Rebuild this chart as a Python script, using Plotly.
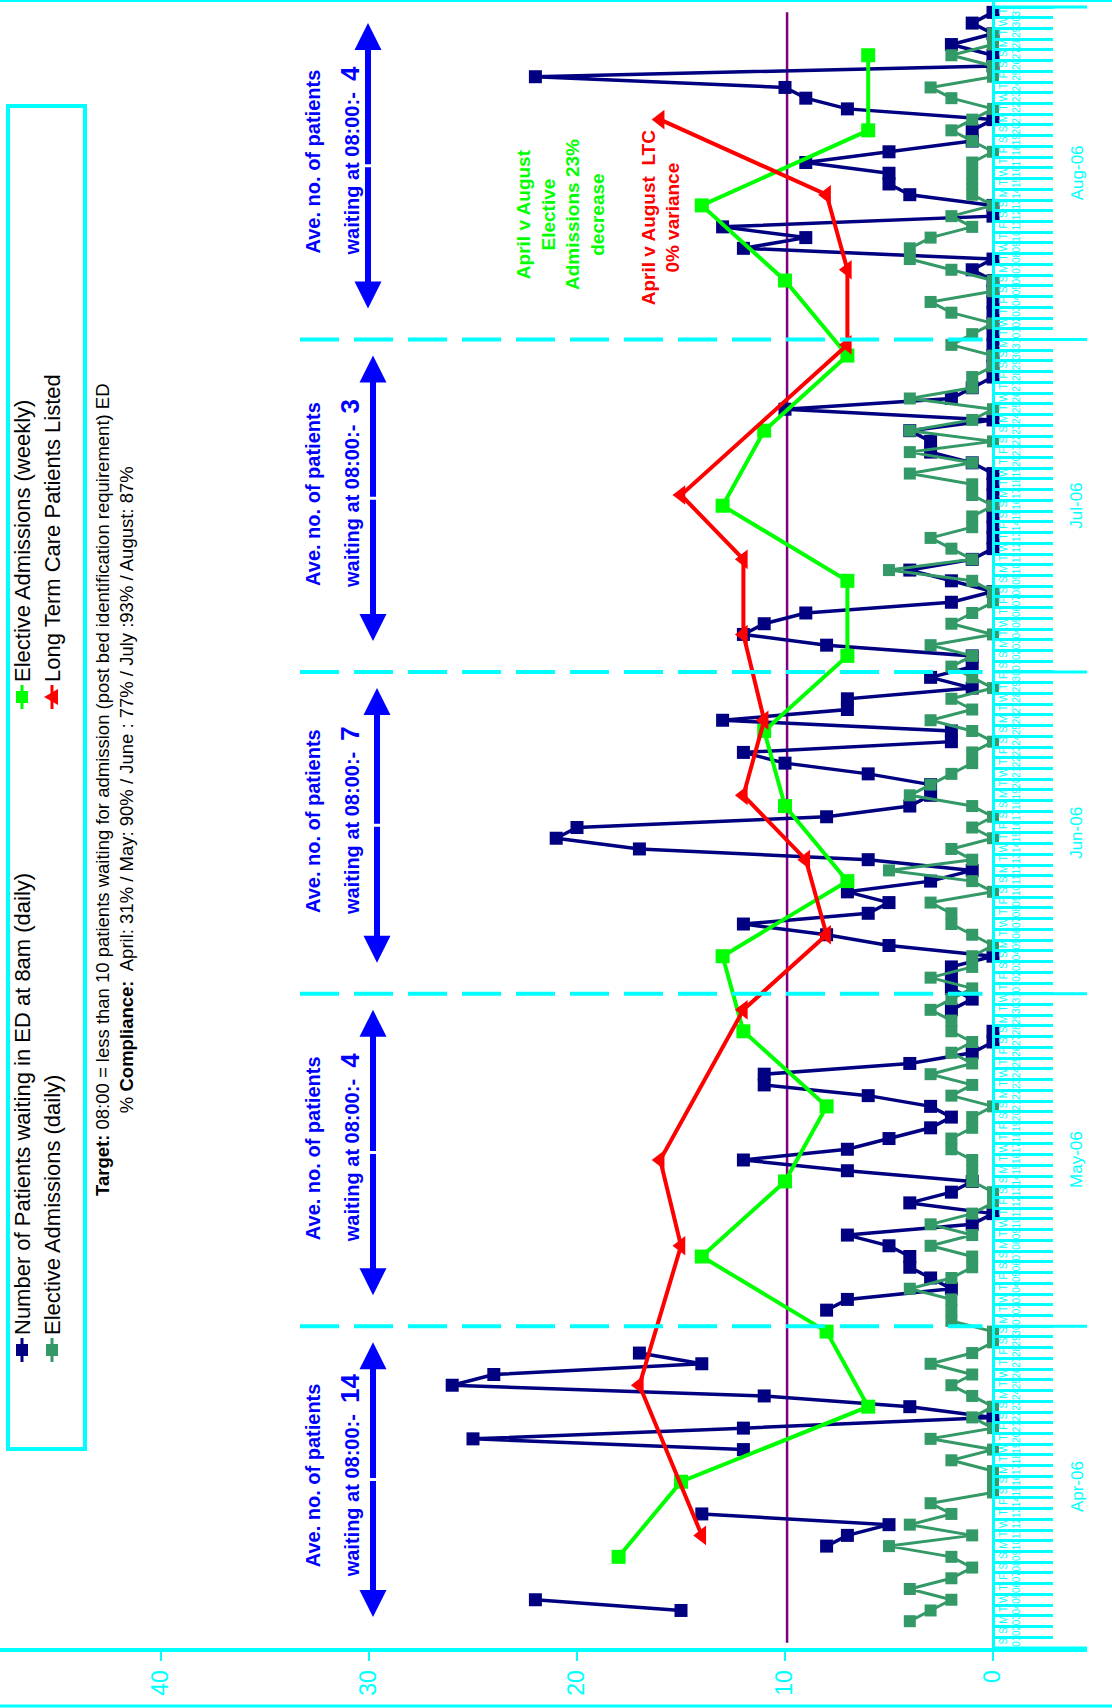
import datetime as dt
import plotly.graph_objects as go

# ---------------- data ----------------
START = dt.date(2006, 4, 1)
N_DAYS = 153

# Number of patients waiting in ED at 8am (daily), per month
ed_apr = [None, None, None, 15, 22, None, None, None, None, 8, 7, 5, 14, None, None,
          None, None, None, 12, 25, 12, 0, 4, 11, 26, 24, 14, 17, None, None]
ed_may = [None, 8, 7, 2, 3, 4, 4, 5, 7, 1, 0, 4, 2, 1, 7, 12, 7, 5, 3, 2, 3, 6, 11, 11,
          4, 1, 0, 0, None, 2, 1]
ed_jun = [2, 2, 2, 0, 5, 8, 12, 6, 5, 7, 3, 1, 6, 17, 21, 20, 8, 4, 3, 3, 6, 10, 12, 2,
          2, 13, 7, 7, 1, 3]
ed_jul = [1, 1, 8, 12, 11, 9, 2, 0, 2, 4, 1, 0, 0, 0, 0, 0, 0, 0, 0, 1, 3, 3, 4, 0, 10,
          2, 1, 0, 0, 0, 0]
ed_aug = [0, 0, 0, 0, 0, 0, 1, 0, 12, 9, 13, 0, 0, 4, 5, 5, 9, 5, 1, 1, 0, 7, 9, 10, 22,
          0, 0, 2, 0, 1, 0]

# Elective admissions (daily), per month
el_apr = [None, None, 4, 3, 2, 4, 2, 1, 2, 5, 1, 4, 2, 3, 0, 0, 0, 2, 0, 3, 0, 1, 0, 1,
          2, 1, 3, 1, 0, 0]
el_may = [2, 2, 2, 4, 2, 1, 1, 3, 1, 3, 1, 0, 0, 1, 1, 1, 2, 2, 1, 1, 0, 2, 1, 3, 1, 2,
          1, 2, 2, 3, 2]
el_jun = [1, 3, 1, 1, 0, 1, 2, 2, 3, 0, 1, 5, 1, 2, 0, 1, 0, 1, 4, 3, 2, 1, 1, 0, 1, 3,
          1, 2, 0, 1]
el_jul = [2, 1, 3, 0, 2, 1, 0, 0, 1, 5, 1, 2, 3, 1, 1, 0, 1, 1, 4, 1, 4, 0, 4, 1, 0, 4,
          1, 1, 0, 0, 2]
el_aug = [1, 0, 2, 3, 0, 0, 2, 4, 4, 3, 1, 2, 0, 1, 1, 1, 1, 0, 1, 2, 1, 0, 2, 3, 0, 0,
          2, 0, 0, None, None]

# Elective admissions (weekly)
weekly_dates = ["2006-04-09", "2006-04-16", "2006-04-23", "2006-04-30", "2006-05-07",
                "2006-05-14", "2006-05-21", "2006-05-28", "2006-06-04", "2006-06-11",
                "2006-06-18", "2006-06-25", "2006-07-02", "2006-07-09", "2006-07-16",
                "2006-07-23", "2006-07-30", "2006-08-06", "2006-08-13", "2006-08-20",
                "2006-08-27"]
weekly_vals = [18, 15, 6, 8, 14, 10, 8, 12, 13, 7, 10, 11, 7, 7, 13, 11, 7, 10, 14, 6, 6]

# Long term care patients listed
ltc_dates = ["2006-04-11", "2006-04-25", "2006-05-08", "2006-05-16", "2006-05-30",
             "2006-06-06", "2006-06-13", "2006-06-19", "2006-06-26", "2006-07-04",
             "2006-07-11", "2006-07-17", "2006-07-31", "2006-08-07", "2006-08-14",
             "2006-08-21"]
ltc_vals = [14, 17, 15, 16, 12, 8, 9, 12, 11, 12, 12, 15, 7, 7, 8, 16]

target_value = 9.9

month_labels = ["Apr-06", "May-06", "Jun-06", "Jul-06", "Aug-06"]
month_starts = ["2006-04-01", "2006-05-01", "2006-06-01", "2006-07-01", "2006-08-01", "2006-09-01"]
month_avgs = ["14", "4", "7", "3", "4"]
value_ticks = [0, 10, 20, 30, 40]
weekday_letters = ["M", "T", "W", "T", "F", "S", "S"]

# ---------------- helpers ----------------
W, H = 1112, 1708
CYAN = "#00FFFF"
FONT = "Liberation Sans, Arial, sans-serif"


def di(s):
    return (dt.date.fromisoformat(s) - START).days


days = [START + dt.timedelta(days=i) for i in range(N_DAYS)]
idx = list(range(N_DAYS))
day_text = [f"{weekday_letters[d.weekday()]}<br>{d.day:02d}" for d in days]
ed = ed_apr + ed_may + ed_jun + ed_jul + ed_aug
el = el_apr + el_may + el_jun + el_jul + el_aug

# layout calibration (pixels)
X0_PX = 993.0
PX_PER_UNIT = 20.8
AXIS_RIGHT_PX = 1087.0
Y_BOT_PX = 1648.0
PX_PER_DAY = (1648.0 - 7.0) / N_DAYS
x_range = [X0_PX / PX_PER_UNIT, -(AXIS_RIGHT_PX - X0_PX) / PX_PER_UNIT]
y_range = [-0.5, -0.5 + Y_BOT_PX / PX_PER_DAY]


def px(x):
    return x / W


def py(y):
    return 1 - y / H


def xv(p):
    # pixel column -> value on the (reversed) value axis
    return (X0_PX - p) / PX_PER_UNIT


fig = go.Figure()

fig.add_trace(go.Scatter(x=[target_value] * N_DAYS, y=idx, mode="lines",
                         line=dict(color="#800080", width=2.5), hoverinfo="skip"))
fig.add_trace(go.Scatter(x=ed, y=idx, mode="lines+markers",
                         line=dict(color="#000080", width=3.5),
                         marker=dict(symbol="square", size=13, color="#000080")))
fig.add_trace(go.Scatter(x=el, y=idx, mode="lines+markers",
                         line=dict(color="#339966", width=3),
                         marker=dict(symbol="square", size=12, color="#339966")))
fig.add_trace(go.Scatter(x=weekly_vals, y=[di(d) for d in weekly_dates], mode="lines+markers",
                         line=dict(color="#00FF00", width=4),
                         marker=dict(symbol="square", size=14, color="#00FF00")))
fig.add_trace(go.Scatter(x=ltc_vals, y=[di(d) for d in ltc_dates], mode="lines+markers",
                         line=dict(color="#FF0000", width=4),
                         marker=dict(symbol="triangle-left", size=17, color="#FF0000")))

shapes = []
annotations = []

# month boundary ticks and dashed separators
bounds = [di(m) - 0.5 for m in month_starts]
for b in bounds:
    shapes.append(dict(type="line", xref="x", yref="y", x0=0, x1=x_range[1], y0=b, y1=b,
                       line=dict(color=CYAN, width=3)))
for b in bounds[1:-1]:
    shapes.append(dict(type="line", xref="x", yref="y", x0=xv(300), x1=0.5, y0=b, y1=b,
                       line=dict(color=CYAN, width=4, dash="39px,15px")))

# month labels
for i, lab in enumerate(month_labels):
    mid = (bounds[i] + bounds[i + 1]) / 2
    annotations.append(dict(x=xv(1077), y=mid, xref="x", yref="y", text=lab, showarrow=False,
                            textangle=-90, xanchor="center", yanchor="middle",
                            font=dict(size=17, color=CYAN, family=FONT)))

# blue double arrows + average texts
arrow_px = [373, 373, 377, 373, 368]
for i in range(5):
    lo = bounds[i] + 2.9
    hi = bounds[i + 1] - 1.5
    mid = (lo + hi) / 2
    ax_v = xv(arrow_px[i])
    for tip in (lo, hi):
        annotations.append(dict(x=ax_v, y=tip, ax=ax_v, ay=mid, xref="x", yref="y",
                                axref="x", ayref="y", text="", showarrow=True, arrowhead=2,
                                arrowsize=0.9, arrowwidth=6, arrowcolor="#0000FF"))
    annotations.append(dict(x=xv(313), y=mid + 0.4, xref="x", yref="y", showarrow=False,
                            textangle=-90, xanchor="center", yanchor="middle",
                            text="<b>Ave. no. of patients</b>",
                            font=dict(size=20, color="#0000FF", family=FONT)))
    annotations.append(dict(x=xv(350), y=mid + 0.4, xref="x", yref="y", showarrow=False,
                            textangle=-90, xanchor="center", yanchor="middle",
                            text=("<b>waiting at 08:00:-  "
                                  f"<span style='font-size:26px'>{month_avgs[i]}</span></b>"),
                            font=dict(size=20, color="#0000FF", family=FONT)))

# comparison notes
annotations.append(dict(x=xv(560), y=133.1, xref="x", yref="y", showarrow=False, textangle=-90,
                        xanchor="center", yanchor="middle",
                        text="<b>April v August<br>Elective<br>Admissions 23%<br>decrease</b>",
                        font=dict(size=19, color="#00FF00", family=FONT)))
annotations.append(dict(x=xv(661), y=132.8, xref="x", yref="y", showarrow=False, textangle=-90,
                        xanchor="center", yanchor="middle",
                        text="<b>April v August  LTC<br>0% variance</b>",
                        font=dict(size=19, color="#FF0000", family=FONT)))

# target text
annotations.append(dict(x=px(115), y=py(790), xref="paper", yref="paper", showarrow=False,
                        textangle=-90, xanchor="center", yanchor="middle",
                        text=("<b>Target:</b> 08:00 = less than 10 patients waiting for admission "
                              "(post bed identification requirement) ED<br>"
                              "% <b>Compliance:</b>  April: 31% / May: 90% / June : 77% / "
                              "July :93% / August: 87%"),
                        font=dict(size=18.5, color="#000000", family=FONT)))

# legend (rotated)
shapes.append(dict(type="rect", xref="paper", yref="paper", x0=px(8), x1=px(85),
                   y0=py(1449), y1=py(106), line=dict(color=CYAN, width=4)))
legend_items = [
    ("Number of Patients waiting in ED at 8am (daily)", "#000080", 22, 1350, "square"),
    ("Elective Admissions (daily)", "#339966", 52, 1350, "square"),
    ("Elective Admissions (weekly)", "#00FF00", 22, 697, "square"),
    ("Long Term Care Patients Listed", "#FF0000", 52, 697, "triangle"),
]
for text, col, lx, ly, sym in legend_items:
    shapes.append(dict(type="line", xref="paper", yref="paper", x0=px(lx), x1=px(lx),
                       y0=py(ly + 12), y1=py(ly - 12), line=dict(color=col, width=3)))
    if sym == "square":
        shapes.append(dict(type="rect", xref="paper", yref="paper", x0=px(lx - 6), x1=px(lx + 6),
                           y0=py(ly + 6), y1=py(ly - 6), line=dict(width=0), fillcolor=col))
    else:
        shapes.append(dict(type="path", xref="paper", yref="paper",
                           path=(f"M {px(lx - 8)},{py(ly)} L {px(lx + 6)},{py(ly - 8)} "
                                 f"L {px(lx + 6)},{py(ly + 8)} Z"),
                           line=dict(width=0), fillcolor=col))
    annotations.append(dict(x=px(lx), y=py(ly - 13), xref="paper", yref="paper", showarrow=False,
                            textangle=-90, xanchor="center", yanchor="bottom", text=text,
                            font=dict(size=22, color="#000000", family=FONT)))

# outer frame lines
shapes.append(dict(type="line", xref="paper", yref="paper", x0=0, x1=1, y0=py(1), y1=py(1),
                   line=dict(color=CYAN, width=2)))
shapes.append(dict(type="line", xref="paper", yref="paper", x0=0, x1=1, y0=py(1706), y1=py(1706),
                   line=dict(color=CYAN, width=3)))

fig.update_layout(
    width=W, height=H,
    margin=dict(l=0, r=0, t=0, b=0),
    paper_bgcolor="white", plot_bgcolor="white",
    showlegend=False,
    font=dict(family=FONT),
    xaxis=dict(range=x_range, domain=[0, AXIS_RIGHT_PX / W], anchor="y",
               showline=True, linecolor=CYAN, linewidth=4, showgrid=False, zeroline=False,
               tickmode="array", tickvals=value_ticks, ticktext=[str(v) for v in value_ticks],
               ticks="outside", ticklen=9, tickwidth=2, tickcolor=CYAN, tickangle=-90,
               tickfont=dict(size=23, color=CYAN, family=FONT)),
    yaxis=dict(range=y_range, domain=[(H - Y_BOT_PX) / H, 1], anchor="free",
               position=X0_PX / W, side="right", showline=True, linecolor=CYAN, linewidth=3,
               showgrid=False, zeroline=False, tickmode="array", tickvals=idx, ticktext=day_text,
               ticks="", tickangle=-90, tickfont=dict(size=10, color=CYAN, family=FONT),
               minor=dict(tick0=-0.5, dtick=1, ticks="outside", ticklen=58, tickwidth=3,
                          tickcolor=CYAN, showgrid=False)),
    shapes=shapes,
    annotations=annotations,
)

fig.write_html("out.html", config={"displayModeBar": False},
               post_script="document.body.style.margin='0';document.body.style.overflow='hidden';")
